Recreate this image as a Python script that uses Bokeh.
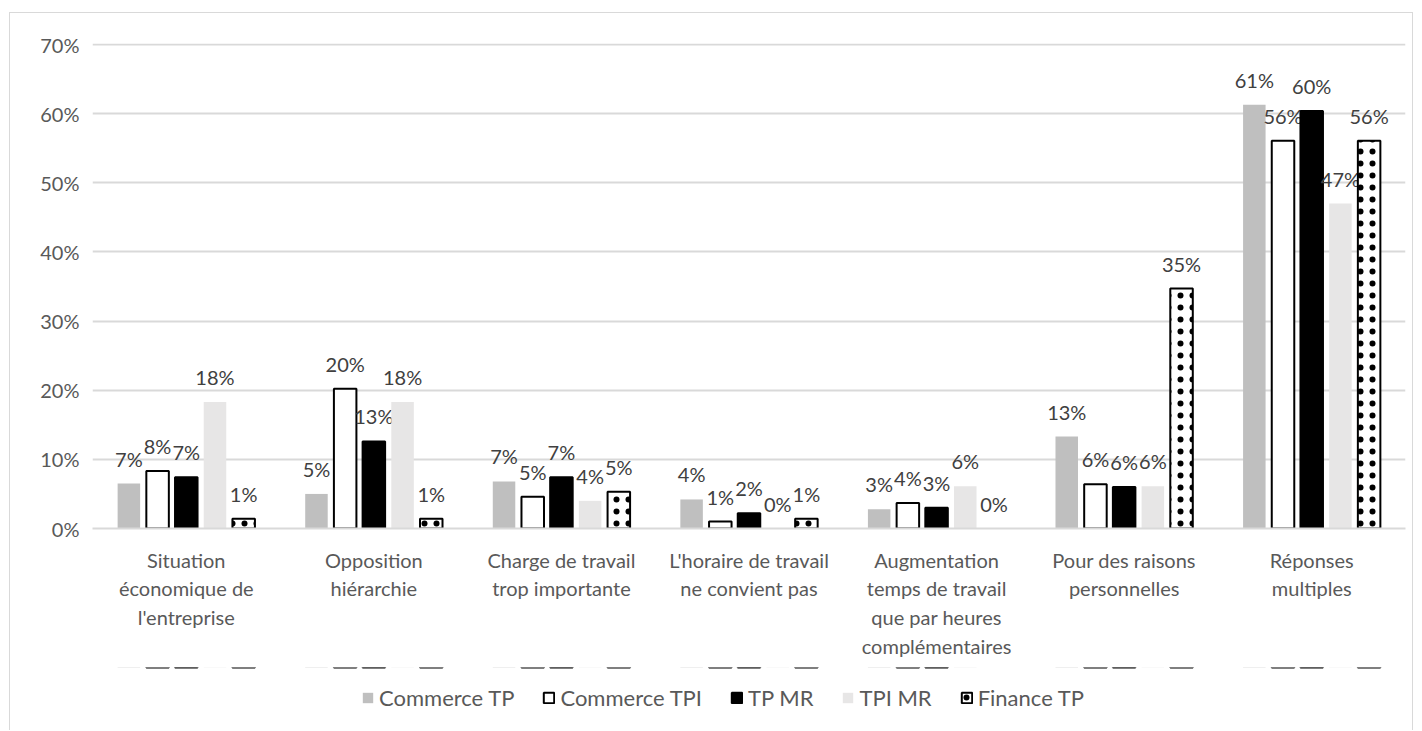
from bokeh.plotting import figure
from bokeh.models import (FactorRange, Range1d, FixedTicker, PrintfTickFormatter,
                          ColumnDataSource, Legend, LegendItem, Spacer)
from bokeh.layouts import column, row
from bokeh.transform import dodge
from bokeh.core.properties import value
from bokeh.embed import file_html
from bokeh.resources import INLINE
import math

# ---------------- data ----------------
categories = [
    "Situation\néconomique de\nl'entreprise",
    "Opposition\nhiérarchie",
    "Charge de travail\ntrop importante",
    "L'horaire de travail\nne convient pas",
    "Augmentation\ntemps de travail\nque par heures\ncomplémentaires",
    "Pour des raisons\npersonnelles",
    "Réponses\nmultiples",
]
series_names = ["Commerce TP", "Commerce TPI", "TP MR", "TPI MR", "Finance TP"]
commerce_tp = [6.5, 5.0, 6.8, 4.2, 2.8, 13.3, 61.3]
commerce_tpi = [8.3, 20.2, 4.6, 1.0, 3.7, 6.4, 56.1]
tp_mr = [7.4, 12.6, 7.4, 2.2, 3.0, 6.0, 60.4]
tpi_mr = [18.3, 18.3, 4.0, 0.0, 6.1, 6.1, 47.0]
finance_tp = [1.4, 1.4, 5.3, 1.4, 0.0, 34.7, 56.1]
y_ticks = [0, 10, 20, 30, 40, 50, 60, 70]

series_values = [commerce_tp, commerce_tpi, tp_mr, tpi_mr, finance_tp]

# ---------------- styles ----------------
FONT = "Lato"
BORDER = "1px solid #d9d9d9"
fills = ["#bfbfbf", "white", "black", "#e7e6e6", "white"]
outlines = [None, "black", "black", None, "black"]
hatches = [None, None, None, None, "dot"]
offsets = [-0.306, -0.153, 0.0, 0.153, 0.306]
BAR_W = 0.12


def bar_style(fc, lc, hp):
    kw = dict(fill_color=fc)
    if lc is None:
        kw.update(line_color=None)
    else:
        kw.update(line_color=lc, line_width=2, line_alpha="la")
    if hp is not None:
        kw.update(hatch_pattern=hp, hatch_color="black", hatch_scale=12,
                  hatch_weight=0.5)
    return kw


# ---------------- main chart ----------------
p = figure(
    x_range=FactorRange(*categories, range_padding=0),
    y_range=Range1d(0, 70.15),
    width=1404, height=655,
    output_backend="svg", toolbar_location=None,
    min_border_left=82, min_border_right=9,
    min_border_top=30, min_border_bottom=140,
)
p.styles = {"border-left": BORDER, "border-right": BORDER, "border-top": BORDER}
p.outline_line_color = None
p.background_fill_color = "white"
p.border_fill_color = "white"

# legend strip (shares the category axis; its value window lies far below the bars)
lg = figure(width=1404, height=63, output_backend="svg", toolbar_location=None,
            x_range=p.x_range, y_range=Range1d(-100, -99),
            min_border=0, x_axis_type=None, y_axis_type=None)
lg.styles = {"border-left": BORDER, "border-right": BORDER}
lg.outline_line_color = None
lg.grid.visible = False
lg.background_fill_color = "white"
lg.border_fill_color = "white"

items = []
for name, vals, fc, lc, hp, off in zip(series_names, series_values, fills,
                                         outlines, hatches, offsets):
    src = ColumnDataSource(dict(
        x=categories, top=vals,
        lab=[f"{math.floor(v + 0.5)}%" for v in vals],
        la=[1.0 if v > 0 else 0.0 for v in vals],
    ))
    p.vbar(x=dodge("x", off, range=p.x_range), top="top", width=BAR_W, bottom=0,
           source=src, **bar_style(fc, lc, hp))
    p.text(x=dodge("x", off, range=p.x_range), y="top", text="lab", source=src,
           text_font=value(FONT), text_font_size="20px", text_color="#404040",
           text_align="center", text_baseline="middle", y_offset=-25)
    r = lg.vbar(x=dodge("x", off, range=p.x_range), top="top", width=BAR_W,
                bottom=0, source=src, **bar_style(fc, lc, hp))
    items.append(LegendItem(label=name, renderers=[r], index=0))

# y axis
p.yaxis.ticker = FixedTicker(ticks=y_ticks)
p.yaxis.formatter = PrintfTickFormatter(format="%d%%")
p.yaxis.axis_line_color = None
p.yaxis.major_tick_line_color = None
p.yaxis.minor_tick_line_color = None
p.yaxis.major_label_text_font = FONT
p.yaxis.major_label_text_font_size = "20px"
p.yaxis.major_label_text_color = "#595959"
p.yaxis.major_label_standoff = 7

# x axis
p.xaxis.axis_line_color = "#d9d9d9"
p.xaxis.axis_line_width = 2
p.xaxis.major_tick_line_color = None
p.xaxis.minor_tick_line_color = None
p.xaxis.major_tick_out = 0
p.xaxis.major_tick_in = 0
p.xaxis.major_label_text_font = FONT
p.xaxis.major_label_text_font_size = "20px"
p.xaxis.major_label_text_color = "#595959"
p.xaxis.major_label_text_line_height = 1.2
p.xaxis.major_label_standoff = 19
p.xaxis.major_label_orientation = "horizontal"

p.xgrid.grid_line_color = None
p.ygrid.ticker = FixedTicker(ticks=y_ticks)
p.ygrid.grid_line_color = "#d9d9d9"
p.ygrid.grid_line_width = 2

legend = Legend(items=items, orientation="horizontal", location=(269, 19),
                label_text_font=FONT, label_text_font_size="22px",
                label_text_color="#595959", glyph_width=13, glyph_height=13,
                spacing=28, label_standoff=5, padding=0, margin=0,
                border_line_color=None, background_fill_alpha=0)
lg.add_layout(legend, "center")

layout = column(Spacer(height=12), row(Spacer(width=9), column(p, lg)))
open("out.html", "w").write(file_html(layout, INLINE))
